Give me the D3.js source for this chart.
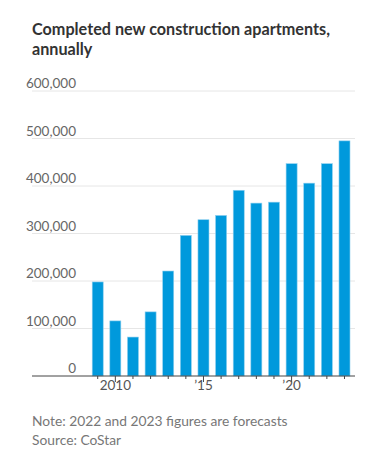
<!DOCTYPE html>
<html>
<head>
<meta charset="utf-8">
<script src="https://cdn.jsdelivr.net/npm/d3@7"></script>
<style>
  body { margin: 0; background: #fff; }
  text { font-family: Lato, "Noto Sans", sans-serif; }
</style>
</head>
<body>
<div id="chart"></div>
<script>
// completed new construction apartments
const years = [2009, 2010, 2011, 2012, 2013, 2014, 2015, 2016, 2017, 2018, 2019, 2020, 2021, 2022, 2023];
const completed = [198000, 116000, 82000, 135000, 221000, 296000, 329000, 338000, 391000, 364000, 366000, 447000, 406000, 447000, 495000];
const yTicks = [0, 100000, 200000, 300000, 400000, 500000, 600000];
const labelYears = { 2010: "2010", 2015: "\u201915", 2020: "\u201920" };

const width = 370, height = 463;

const svg = d3.select("#chart").append("svg")
  .attr("width", width)
  .attr("height", height);

const x = d3.scaleBand()
  .domain(years)
  .range([88.9, 353.3])
  .paddingInner(0.375)
  .paddingOuter(0.1875);

const y = d3.scaleLinear()
  .domain([0, 600000])
  .range([376, 91]);

// title
svg.append("text")
  .attr("x", 32).attr("y", 35)
  .attr("font-size", 16.2).attr("font-weight", 700).attr("fill", "#333")
  .text("Completed new construction apartments,");
svg.append("text")
  .attr("x", 32).attr("y", 55)
  .attr("font-size", 16.2).attr("font-weight", 700).attr("fill", "#333")
  .text("annually");

// grid + y labels
const grid = svg.append("g");
grid.selectAll("line")
  .data(yTicks.filter(d => d > 0))
  .join("line")
  .attr("x1", 32).attr("x2", 355)
  .attr("y1", d => y(d)).attr("y2", d => y(d))
  .attr("stroke", "#e6e6e6").attr("stroke-width", 1);
grid.selectAll("text")
  .data(yTicks)
  .join("text")
  .attr("x", 76)
  .attr("y", d => y(d) - 3)
  .attr("text-anchor", "end")
  .attr("font-size", 13.5)
  .attr("fill", "#666")
  .text(d => d3.format(",")(d));

// bars
svg.append("g")
  .selectAll("rect")
  .data(years)
  .join("rect")
  .attr("x", d => x(d))
  .attr("width", x.bandwidth())
  .attr("y", (d, i) => y(completed[i]))
  .attr("height", (d, i) => y(0) - y(completed[i]))
  .attr("fill", "#0099dc")
  .attr("stroke", "#8fd0ef")
  .attr("stroke-width", 0.6);

// x axis
const xAxis = svg.append("g")
  .attr("transform", `translate(0,${y(0)})`)
  .call(d3.axisBottom(x)
    .tickSize(0)
    .tickFormat(d => labelYears[d] || ""))
  .call(g => g.select(".domain").remove());

xAxis.selectAll(".tick line")
  .attr("y2", d => labelYears[d] ? 6 : 3)
  .attr("stroke", "#444");
xAxis.selectAll(".tick text")
  .attr("y", 14)
  .attr("dy", 0)
  .attr("font-size", 13.5)
  .attr("font-family", "Lato, 'Noto Sans', sans-serif")
  .attr("fill", "#555");
xAxis.append("line")
  .attr("x1", 32).attr("x2", 355)
  .attr("stroke", "#444").attr("stroke-width", 1);

// footnote
svg.append("text")
  .attr("x", 32).attr("y", 426)
  .attr("font-size", 13.8).attr("fill", "#777")
  .text("Note: 2022 and 2023 figures are forecasts");
svg.append("text")
  .attr("x", 32).attr("y", 445)
  .attr("font-size", 13.8).attr("fill", "#777")
  .text("Source: CoStar");
</script>
</body>
</html>
